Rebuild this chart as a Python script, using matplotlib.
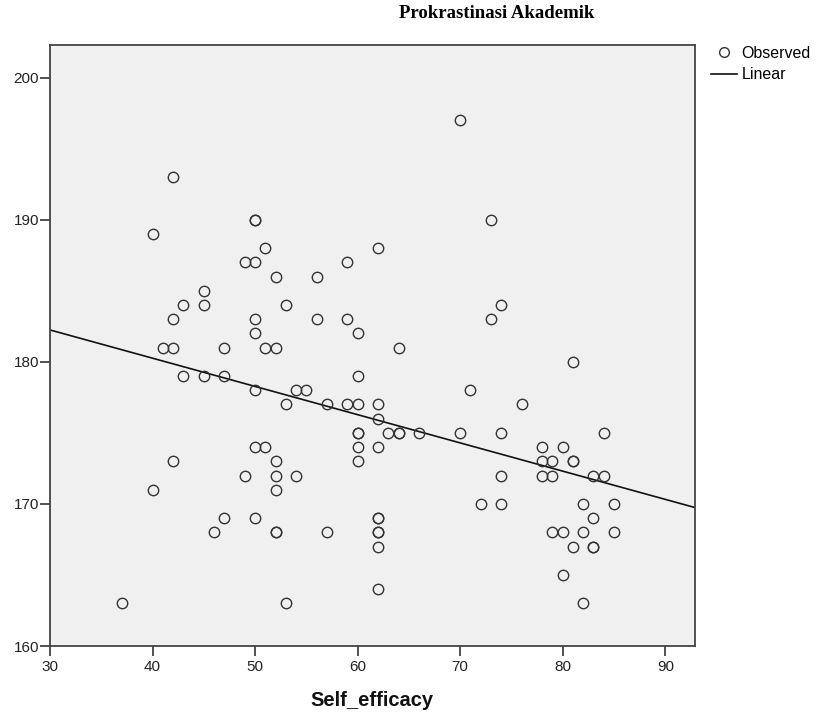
import numpy as np
import matplotlib
matplotlib.use("Agg")
import matplotlib.pyplot as plt
from matplotlib.lines import Line2D

# Self_efficacy (x) and Prokrastinasi Akademik (y)
self_efficacy = [37, 40, 40, 41, 42, 42, 42, 42, 43, 43, 45, 45, 45, 46, 47, 47, 47,
                 49, 49, 50, 50, 50, 50, 50, 50, 50, 50, 51, 51, 51, 52, 52, 52, 52, 52, 52, 52,
                 53, 53, 53, 54, 54, 55, 56, 56, 57, 57, 59, 59, 59,
                 60, 60, 60, 60, 60, 60, 60,
                 62, 62, 62, 62, 62, 62, 62, 62, 62, 62, 63, 64, 64, 64, 66,
                 70, 70, 71, 72, 73, 73, 74, 74, 74, 74, 76,
                 78, 78, 78, 79, 79, 79, 80, 80, 80, 81, 81, 81, 81,
                 82, 82, 82, 83, 83, 83, 83, 84, 84, 85, 85]
prokrastinasi = [163, 189, 171, 181, 193, 183, 181, 173, 184, 179, 185, 184, 179, 168, 181, 179, 169,
                 187, 172, 190, 190, 187, 183, 182, 178, 174, 169, 188, 181, 174, 186, 181, 173, 172, 171, 168, 168,
                 184, 177, 163, 178, 172, 178, 186, 183, 177, 168, 187, 183, 177,
                 182, 179, 177, 175, 175, 174, 173,
                 188, 177, 176, 174, 169, 169, 168, 168, 167, 164, 175, 181, 175, 175, 175,
                 197, 175, 178, 170, 190, 183, 184, 175, 172, 170, 177,
                 174, 173, 172, 173, 172, 168, 174, 168, 165, 180, 173, 173, 167,
                 170, 168, 163, 172, 169, 167, 167, 175, 172, 170, 168]

x_ticks = [30, 40, 50, 60, 70, 80, 90]
y_ticks = [160, 170, 180, 190, 200]
x_range = (30, 92.9)
y_range = (160, 202.3)

x = np.array(self_efficacy, dtype=float)
y = np.array(prokrastinasi, dtype=float)
slope, intercept = np.polyfit(x, y, 1)

fig = plt.figure(figsize=(8.18, 7.15), dpi=100)
ax = fig.add_axes([50/818, 1-646/715, 645/818, 601/715])
ax.set_facecolor("#F0F0F0")

ax.plot(x, y, linestyle="none", marker="o", markersize=7.5, markerfacecolor="none",
        markeredgecolor="#333333", markeredgewidth=1.0, zorder=3)
xl = np.array(x_range)
ax.plot(xl, intercept + slope * xl, color="#111111", linewidth=1.2, zorder=2)

ax.set_xlim(*x_range)
ax.set_ylim(*y_range)
ax.set_xticks(x_ticks)
ax.set_yticks(y_ticks)
ax.tick_params(direction="out", length=7, width=1.2, color="#333333", labelcolor="#222222",
               labelsize=11)
ax.tick_params(axis="x", pad=3)
ax.tick_params(axis="y", pad=1)
for lab in ax.get_xticklabels() + ax.get_yticklabels():
    lab.set_fontfamily("Liberation Sans")
for side in ["left", "bottom", "right", "top"]:
    ax.spines[side].set_color("#444444")
    ax.spines[side].set_linewidth(1.3)

fig.text(372/818, 1-701/715, "Self_efficacy", ha="center", va="center",
         fontsize=14.5, fontweight="bold", family="Liberation Sans", color="#111111")

fig.text(497/818, 1-14/715, "Prokrastinasi Akademik", ha="center", va="center",
         fontsize=13.5, fontweight="bold", family="Liberation Serif")

handles = [Line2D([], [], linestyle="none", marker="o", markersize=7, markerfacecolor="none",
                  markeredgecolor="#333333", markeredgewidth=1.0),
           Line2D([], [], color="#111111", linewidth=1.2)]
fig.legend(handles, ["Observed", "Linear"], loc="upper left", bbox_to_anchor=(711/818, 1-46/715),
           frameon=False, prop={"family": "Liberation Sans", "size": 11.5},
           handlelength=1.65, handletextpad=0.25, labelspacing=0.4, borderaxespad=0, borderpad=0)

fig.savefig("out.png", dpi=100)
